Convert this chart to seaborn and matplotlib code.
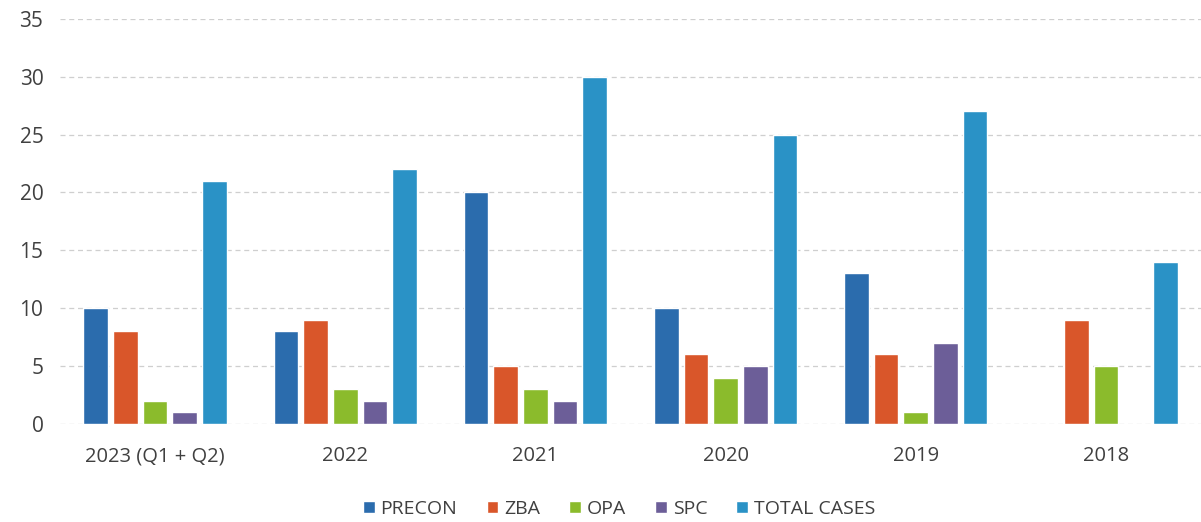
import pandas as pd
import matplotlib
matplotlib.use('Agg')
import matplotlib.pyplot as plt
import seaborn as sns

# data
years = ['2023 (Q1 + Q2)', '2022', '2021', '2020', '2019', '2018']
precon = [10, 8, 20, 10, 13, 0]
zba = [8, 9, 5, 6, 6, 9]
opa = [2, 3, 3, 4, 1, 5]
spc = [1, 2, 2, 5, 7, 0]
total_cases = [21, 22, 30, 25, 27, 14]

series = ['PRECON', 'ZBA', 'OPA', 'SPC', 'TOTAL CASES']
colors = ['#2B6CAD', '#D9562A', '#8BBB2C', '#6C5E98', '#2A92C6']

df = pd.DataFrame({'Year': years, 'PRECON': precon, 'ZBA': zba,
                   'OPA': opa, 'SPC': spc, 'TOTAL CASES': total_cases})
long_df = df.melt(id_vars='Year', var_name='Type', value_name='Cases')

sns.set_style('white')
plt.rcParams['font.family'] = ['Open Sans', 'DejaVu Sans']

fig = plt.figure(figsize=(12.01, 5.22), dpi=100)
ax = fig.add_axes([0.05, 0.188, 0.95, 0.776])

sns.barplot(data=long_df, x='Year', y='Cases', hue='Type', hue_order=series,
            order=years, palette=colors, width=0.78, gap=0.17, ax=ax,
            saturation=1)

ax.set_ylim(0, 35)
ax.set_xlim(-0.5, 5.5)
ax.set_yticks(range(0, 36, 5))
ax.yaxis.grid(True, color='#CFCFCF', linestyle=(0, (4, 3)), linewidth=0.9)
ax.set_axisbelow(True)
for s in ax.spines.values():
    s.set_visible(False)
ax.set_xlabel('')
ax.set_ylabel('')
ax.tick_params(axis='both', length=0, colors='#404040')
ax.tick_params(axis='x', pad=16, labelsize=14.5)
ax.tick_params(axis='y', pad=12, labelsize=15)

ax.legend(loc='upper center', bbox_to_anchor=(0.49, -0.145), ncol=5,
          frameon=False, fontsize=14, handlelength=0.6, handleheight=0.6,
          handletextpad=0.3, columnspacing=1.5, labelcolor='#404040')

fig.savefig('out.png', dpi=100)
